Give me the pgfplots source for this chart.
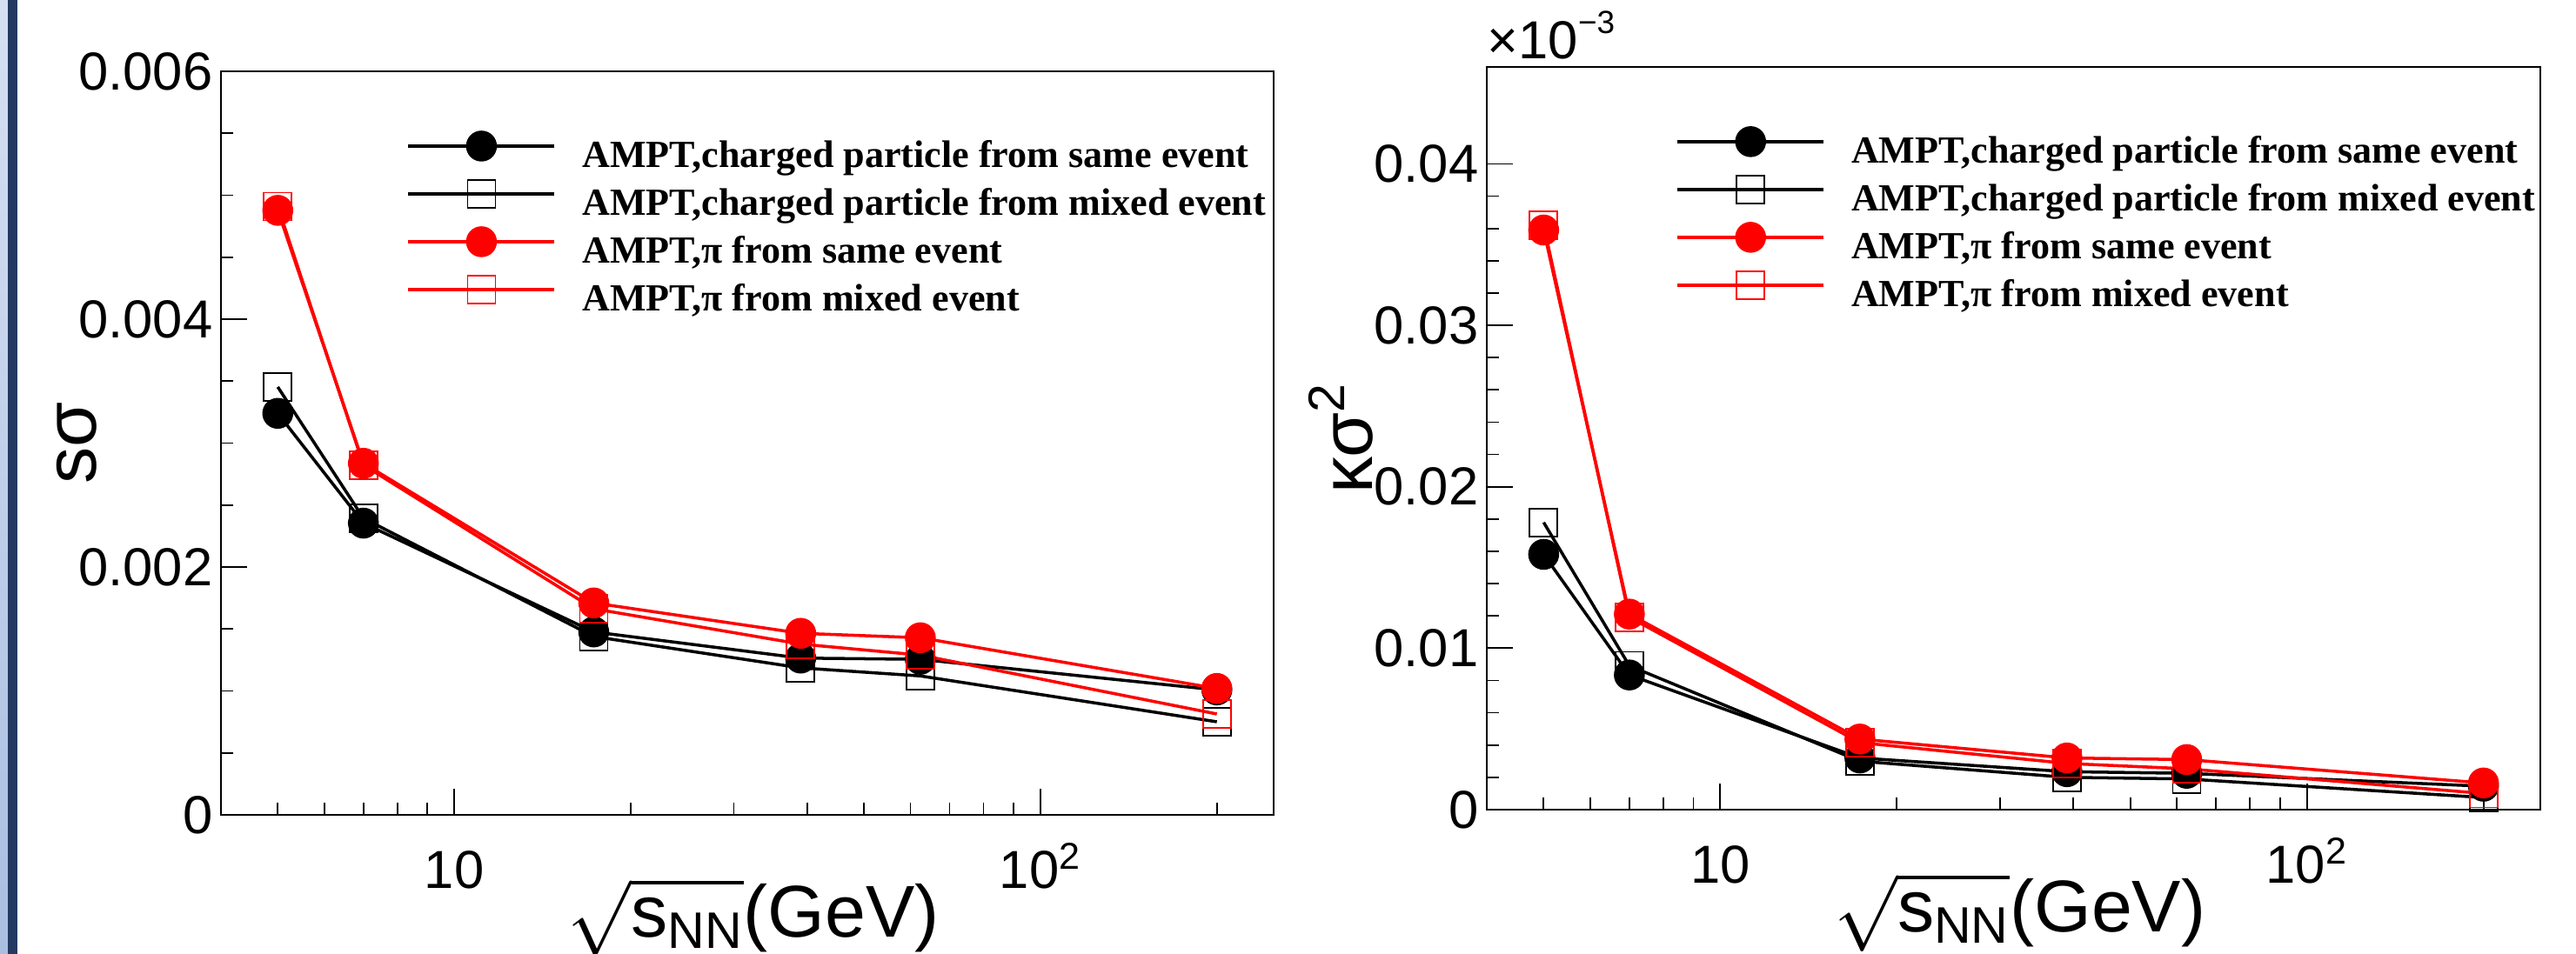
\documentclass[border=0pt]{standalone}
\usepackage{amsmath}
\usepackage{fontspec}
\setmainfont{Liberation Sans}
\newfontfamily\timesfont{Liberation Serif}
\usepackage{pgfplots}
\pgfplotsset{compat=1.18}

\newcommand\tickfont{\fontsize{17.5}{20}\selectfont}
\newcommand\labfont{\fontsize{24}{28}\selectfont}
\newcommand\legfont{\timesfont\bfseries\fontsize{12.55}{14}\selectfont}

\tikzset{
  bfill/.style={black, line width=1pt, mark=*, mark size=0.16cm, mark options={solid, fill=black}},
  bopen/.style={black, line width=1pt, mark=square, mark size=0.16cm, mark options={solid, line width=0.5pt}},
  rfill/.style={red, line width=1pt, mark=*, mark size=0.16cm, mark options={solid, fill=red}},
  ropen/.style={red, line width=1pt, mark=square, mark size=0.16cm, mark options={solid, line width=0.5pt}},
}

% root-like look, shared by both panels
\pgfplotsset{
  scale only axis,
  axis line style={line width=0.6pt},
  xtick pos=bottom, ytick pos=left, tick align=inside,
  major tick length=0.30cm, minor tick length=0.14cm,
  every tick/.style={black, line width=0.5pt},
  tick label style={font=\tickfont},
  xticklabel style={anchor=base, inner sep=0pt, yshift=-0.85cm},
  yticklabel style={anchor=east, inner sep=0pt, xshift=-0.09cm},
  legend cell align=left,
  legend image code/.code={
    \draw[#1, mark repeat=2, mark phase=2] plot coordinates {(0cm,0.14cm) (0.84cm,0.14cm) (1.68cm,0.14cm)};
  },
}

\begin{document}
\begin{tikzpicture}
\fill[white] (0,0) rectangle (29.61,10.97);
\shade[top color={rgb,255:red,214;green,224;blue,242}, bottom color={rgb,255:red,170;green,190;blue,225}] (0,0) rectangle (0.09,10.97);
\fill[color={rgb,255:red,35;green,57;blue,98}] (0.09,0) rectangle (0.20,10.97);
\path[use as bounding box] (0,0) rectangle (29.61,10.97);

% left: s sigma
\begin{axis}[at={(2.54cm,1.60cm)}, anchor=south west,
  width=12.10cm, height=8.55cm,
  xmode=log, xmin=4, xmax=250,
  xtick={10,100}, xticklabels={10,10\textsuperscript{2}},
  minor xtick={5,6,7,8,9,20,30,40,50,60,70,80,90,200},
  ymin=0, ymax=0.006, ytick={0,0.002,0.004,0.006},
  yticklabels={0,0.002,0.004,0.006}, minor y tick num=3,
  scaled y ticks=false,
  xlabel={$\sqrt{\text{s}_{\text{NN}}}$(GeV)},
  xlabel style={at={(axis description cs:0.506,-0.164)}, anchor=base, font=\labfont},
  ylabel={sσ},
  ylabel style={at={(axis description cs:-0.119,0.5)}, anchor=base, font=\labfont},
  legend style={at={(axis description cs:0.176,0.919)}, anchor=north west,
    draw=none, fill=none, inner sep=0pt, row sep=0.055cm, column sep=0.30cm,
    nodes={inner sep=0pt, text height=0.30cm, text depth=0.09cm}, font=\legfont}]
\addlegendimage{bfill}
\addlegendentry{AMPT,charged particle from same event}
\addlegendimage{bopen}
\addlegendentry{AMPT,charged particle from mixed event}
\addlegendimage{rfill}
\addlegendentry{AMPT,π from same event}
\addlegendimage{ropen}
\addlegendentry{AMPT,π from mixed event}
\addplot[bopen, forget plot] coordinates {(5,0.003453) (7,0.002394) (17.3,0.001439) (39,0.001186) (62.4,0.001121) (200,0.000751)};
\addplot[bfill, forget plot] coordinates {(5,0.003240) (7,0.002354) (17.3,0.001476) (39,0.001265) (62.4,0.001255) (200,0.001008)};
\addplot[ropen, forget plot] coordinates {(5,0.004909) (7,0.002823) (17.3,0.001663) (39,0.001378) (62.4,0.001289) (200,0.000814)};
\addplot[rfill, forget plot] coordinates {(5,0.004878) (7,0.002837) (17.3,0.001710) (39,0.001465) (62.4,0.001429) (200,0.001020)};
\end{axis}

% right: kappa sigma^2
\begin{axis}[name=kap, at={(17.09cm,1.66cm)}, anchor=south west,
  width=12.11cm, height=8.54cm,
  xmode=log, xmin=4, xmax=250,
  xtick={10,100}, xticklabels={10,10\textsuperscript{2}},
  minor xtick={5,6,7,8,9,20,30,40,50,60,70,80,90,200},
  ymin=0, ymax=0.046, ytick={0,0.01,0.02,0.03,0.04},
  yticklabels={0,0.01,0.02,0.03,0.04}, minor y tick num=4,
  scaled y ticks=false,
  xlabel={$\sqrt{\text{s}_{\text{NN}}}$(GeV)},
  xlabel style={at={(axis description cs:0.506,-0.164)}, anchor=base, font=\labfont},
  ylabel={κσ\textsuperscript{2}},
  ylabel style={at={(axis description cs:-0.109,0.5)}, anchor=base, font=\labfont},
  legend style={at={(axis description cs:0.179,0.919)}, anchor=north west,
    draw=none, fill=none, inner sep=0pt, row sep=0.055cm, column sep=0.30cm,
    nodes={inner sep=0pt, text height=0.30cm, text depth=0.09cm}, font=\legfont}]
\addlegendimage{bfill}
\addlegendentry{AMPT,charged particle from same event}
\addlegendimage{bopen}
\addlegendentry{AMPT,charged particle from mixed event}
\addlegendimage{rfill}
\addlegendentry{AMPT,π from same event}
\addlegendimage{ropen}
\addlegendentry{AMPT,π from mixed event}
\addplot[bopen, forget plot] coordinates {(5,0.01779) (7,0.00891) (17.3,0.0030) (39,0.0020) (62.4,0.0019) (200,0.00075)};
\addplot[bfill, forget plot] coordinates {(5,0.01581) (7,0.00834) (17.3,0.0032) (39,0.00235) (62.4,0.00225) (200,0.00145)};
\addplot[ropen, forget plot] coordinates {(5,0.0362) (7,0.01192) (17.3,0.00415) (39,0.00286) (62.4,0.00253) (200,0.0010)};
\addplot[rfill, forget plot] coordinates {(5,0.0359) (7,0.01211) (17.3,0.00437) (39,0.0032) (62.4,0.0031) (200,0.00165)};
\end{axis}
% root's exponent label above the kappa sigma^2 frame
\node[anchor=base west, inner sep=0pt, font=\tickfont] at ([yshift=0.09cm]kap.north west)
  {×10\raisebox{0.29cm}{\fontsize{10.5}{12}\selectfont −3}};
\end{tikzpicture}
\end{document}
